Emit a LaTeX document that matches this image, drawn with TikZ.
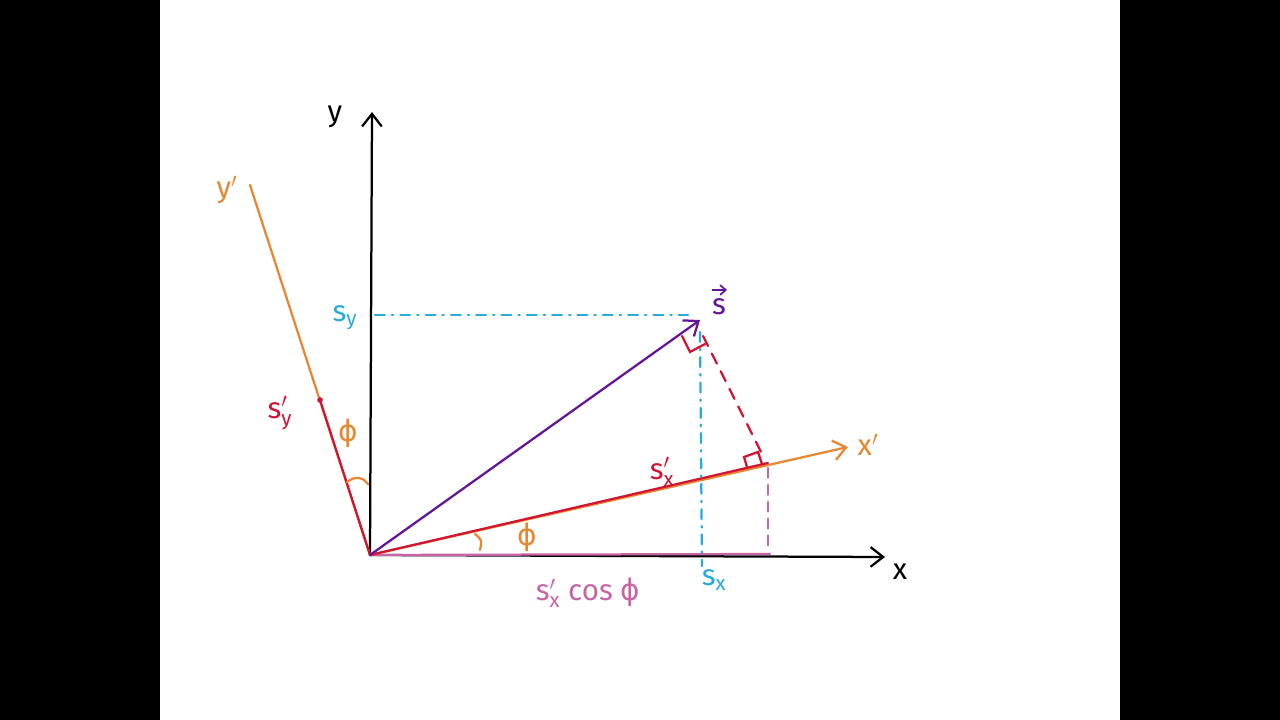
\documentclass[tikz,border=0pt]{standalone}
\usepackage{fontspec}
\setmainfont{Fira Sans}
\newfontfamily\phifont{DejaVu Sans}
\usetikzlibrary{arrows.meta}
\definecolor{cOr}{RGB}{232,135,50}
\definecolor{cRd}{RGB}{210,20,50}
\definecolor{cPu}{RGB}{100,20,150}
\definecolor{cCy}{RGB}{40,170,220}
\definecolor{cPk}{RGB}{200,100,165}
\newcommand{\myphi}{{\phifont ϕ}}
\tikzset{
  ln/.style={line width=1.6pt, line cap=round},
  tip/.style={-{Straight Barb[length=9pt,width=14pt,line width=1.6pt]}},
  smalltip/.style={-{Straight Barb[length=4pt,width=7pt,line width=1.2pt]}},
  lbl/.style={font=\fontsize{21}{24}\selectfont, inner sep=0pt},
  dd/.style={ln, dash pattern=on 7pt off 5pt on 1pt off 5pt},
}
\begin{document}
\begin{tikzpicture}[x=0.025cm,y=-0.025cm]
\fill[black] (0,0) rectangle (1280,720);
\fill[white] (160,0) rectangle (1120,720);
\useasboundingbox (0,0) rectangle (1280,720);
% points
\coordinate (O) at (370,555);
\coordinate (Ye) at (372,112);
\coordinate (Xe) at (885,557);
\coordinate (Xpe) at (848,447);
\coordinate (Ype) at (250,185);
\coordinate (Sxp) at (768,463);
\coordinate (Syp) at (320,400);
\coordinate (S) at (700,320);
\coordinate (SyL) at (375,315);
\coordinate (SyR) at (688,315);
\coordinate (SxT) at (700,332);
\coordinate (SxB) at (702,566);
\coordinate (Dd1) at (703,336);
\coordinate (Dd2) at (764,458);
\coordinate (Pk1) at (768,468);
\coordinate (Pk2) at (768,552);
% axes
\draw[ln,tip,black] (O) -- (Ye);
\draw[ln,tip,black] (O) -- (Xe);
\draw[ln,tip,cOr] (O) -- (Xpe);
\draw[ln,cOr] (O) -- (Ype);
% pink projection
\draw[ln,cPk] (O) -- (770,554);
\draw[ln,cPk,dash pattern=on 7pt off 5pt] (Pk1) -- (Pk2);
% components
\draw[ln,cRd] (O) -- (Sxp);
\draw[ln,cRd] (O) -- (Syp);
\fill[cRd] (Syp) circle (2pt);
% dash-dot cyan
\draw[dd,cCy] (SyL) -- (SyR);
\draw[dd,cCy] (SxT) -- (SxB);
% red dashed
\draw[ln,cRd,dash pattern=on 8pt off 6pt] (Dd1) -- (Dd2);
% vector s
\draw[ln,tip,cPu] (O) -- (S);
% right angle marks
\draw[ln,cRd] (682,336) -- (690,352) -- (705,344);
\draw[ln,cRd] (747,467) -- (744,457) -- (758,452) -- (762,464);
% angle arcs
\draw[ln,cOr] (475,534) .. controls (482,540) .. (480,550);
\draw[ln,cOr] (347,482) .. controls (356,475) and (364,478) .. (368,484);
% labels
\node[lbl] (ly) at (335,117) {y};
\node[lbl] (lx) at (900,572) {x};
\node[lbl,cOr] (lyp) at (227,190) {y$'$};
\node[lbl,cOr] (lxp) at (868,445) {x$'$};
\node[lbl,cPu] (ls) at (719,307) {s};
\coordinate (va) at (712,290);
\coordinate (vb) at (727,290);
\draw[line width=1.2pt,cPu,smalltip] (va) -- (vb);
\node[lbl,cCy] (lsy) at (345,318) {s\textsubscript{y}};
\node[lbl,cCy] (lsx) at (714,580) {s\textsubscript{x}};
\node[lbl,cRd] (lsyp) at (280,413) {s$'_{\mathrm{y}}$};
\node[lbl,cRd] (lsxp) at (662,472) {s$'_{\mathrm{x}}$};
\node[lbl,cOr] (lph1) at (348,433) {\myphi};
\node[lbl,cOr] (lph2) at (527,537) {\myphi};
\node[lbl,cPk] (lcos) at (588,593) {s$'_{\mathrm{x}}$ cos \myphi};
\end{tikzpicture}
\end{document}
